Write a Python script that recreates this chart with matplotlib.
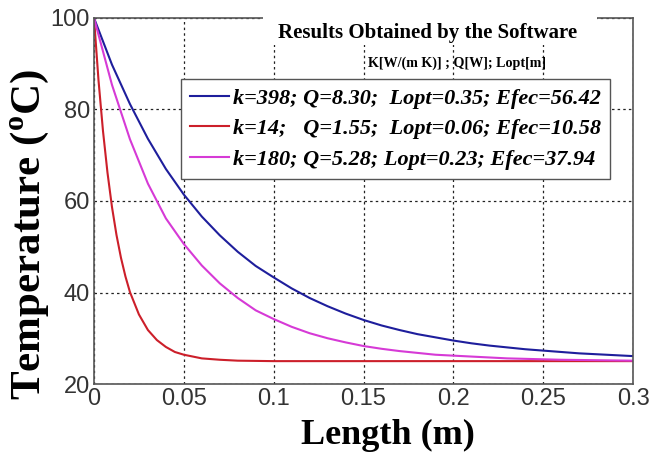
import numpy as np
import matplotlib
matplotlib.use("Agg")
import matplotlib.pyplot as plt
from matplotlib.patches import Rectangle

plt.rcParams['mathtext.fontset'] = 'custom'
plt.rcParams['mathtext.rm'] = 'Liberation Serif:bold'
plt.rcParams['mathtext.bf'] = 'Liberation Serif:bold'

# values
x_blue = [0, 0.01, 0.02, 0.03, 0.04, 0.05, 0.06, 0.07, 0.08, 0.09, 0.10,
          0.11, 0.12, 0.13, 0.14, 0.15, 0.16, 0.17, 0.18, 0.19, 0.20,
          0.21, 0.22, 0.23, 0.24, 0.25, 0.26, 0.27, 0.28, 0.29, 0.30]
t_blue = [100, 89.8, 81.2, 73.6, 67.0, 61.4, 56.6, 52.5, 48.9, 45.8, 43.3,
          40.9, 38.8, 37.0, 35.4, 34.0, 32.8, 31.8, 30.9, 30.2, 29.5,
          28.9, 28.4, 28.0, 27.6, 27.3, 27.0, 26.7, 26.5, 26.3, 26.1]

x_mag = x_blue
t_mag = [100, 85.4, 73.5, 63.8, 56.2, 50.6, 45.9, 42.0, 38.8, 36.1, 34.2,
         32.5, 31.1, 30.0, 29.1, 28.3, 27.7, 27.2, 26.8, 26.4, 26.2,
         26.0, 25.8, 25.6, 25.5, 25.4, 25.3, 25.25, 25.2, 25.15, 25.1]

x_red = [0, 0.0025, 0.005, 0.0075, 0.01, 0.0125, 0.015, 0.0175, 0.02,
         0.025, 0.03, 0.035, 0.04, 0.045, 0.05, 0.06, 0.07, 0.08, 0.10,
         0.15, 0.20, 0.25, 0.30]
t_red = [100, 86.4, 75.3, 66.2, 58.7, 52.6, 47.6, 43.5, 40.1,
         35.2, 31.8, 29.6, 28.1, 27.0, 26.4, 25.6, 25.3, 25.1, 25.0,
         25.0, 25.0, 25.0, 25.0]

labels = ["k=398; Q=8.30;  Lopt=0.35; Efec=56.42",
          "k=14;   Q=1.55;  Lopt=0.06; Efec=10.58",
          "k=180; Q=5.28; Lopt=0.23; Efec=37.94"]
colors = ['#1e1e9c', '#cc1f2a', '#d63ad6']

x_ticks = [0, 0.05, 0.1, 0.15, 0.2, 0.25, 0.3]
x_ticklabels = ['0', '0.05', '0.1', '0.15', '0.2', '0.25', '0.3']
y_ticks = [20, 40, 60, 80, 100]

fig = plt.figure(figsize=(6.51, 4.53), dpi=100)
ax = fig.add_axes([0.1444, 0.1523, 0.828, 0.808])

ax.plot(x_blue, t_blue, color=colors[0], lw=1.5, label=labels[0])
ax.plot(x_red, t_red, color=colors[1], lw=1.5, label=labels[1])
ax.plot(x_mag, t_mag, color=colors[2], lw=1.5, label=labels[2])

ax.set_xlim(0, 0.3)
ax.set_ylim(20, 100)
ax.set_xticks(x_ticks)
ax.set_xticklabels(x_ticklabels)
ax.set_yticks(y_ticks)
ax.grid(True, color='#222222', linestyle=(0, (2, 2.5)), lw=0.9)
ax.set_axisbelow(True)
for s in ax.spines.values():
    s.set_color('#555555')
    s.set_linewidth(1.2)
ax.tick_params(direction='in', length=0, labelsize=17, colors='#333333',
               pad=3)
for lab in ax.get_xticklabels() + ax.get_yticklabels():
    lab.set_fontfamily('Liberation Sans')

leg = ax.legend(loc='upper left', bbox_to_anchor=(0.161, 0.833),
                prop={'family': 'Liberation Serif', 'weight': 'bold',
                      'style': 'italic', 'size': 16},
                handlelength=1.75, handletextpad=0.2, labelspacing=0.45,
                borderpad=0.4, borderaxespad=0, fancybox=False,
                framealpha=1, edgecolor='#555555')
leg.get_frame().set_linewidth(1.0)

# white box behind the heading, covering the top border
ax.add_patch(Rectangle((0.3135, 0.926), 0.62, 0.2, transform=ax.transAxes,
                       facecolor='white', edgecolor='none', clip_on=False,
                       zorder=5))
ax.text(0.618, 0.959, "Results Obtained by the Software",
        transform=ax.transAxes, ha='center', va='center',
        family='Liberation Serif', weight='bold', size=15, zorder=6)
ax.text(0.674, 0.877, "K[W/(m K)] ; Q[W]; Lopt[m]",
        transform=ax.transAxes, ha='center', va='center',
        family='Liberation Serif', weight='bold', size=10.2, zorder=6)

fig.text(388 / 651, 1 - 435 / 453, "Length (m)", ha='center', va='center',
         family='Liberation Serif', weight='bold', size=26)
fig.text(30 / 651, 1 - 235 / 453, r"Temperature ($^{\mathbf{o}}$C)",
         ha='center', va='center', rotation=90,
         family='Liberation Serif', weight='bold', size=31)

fig.savefig('out.png', dpi=100)
